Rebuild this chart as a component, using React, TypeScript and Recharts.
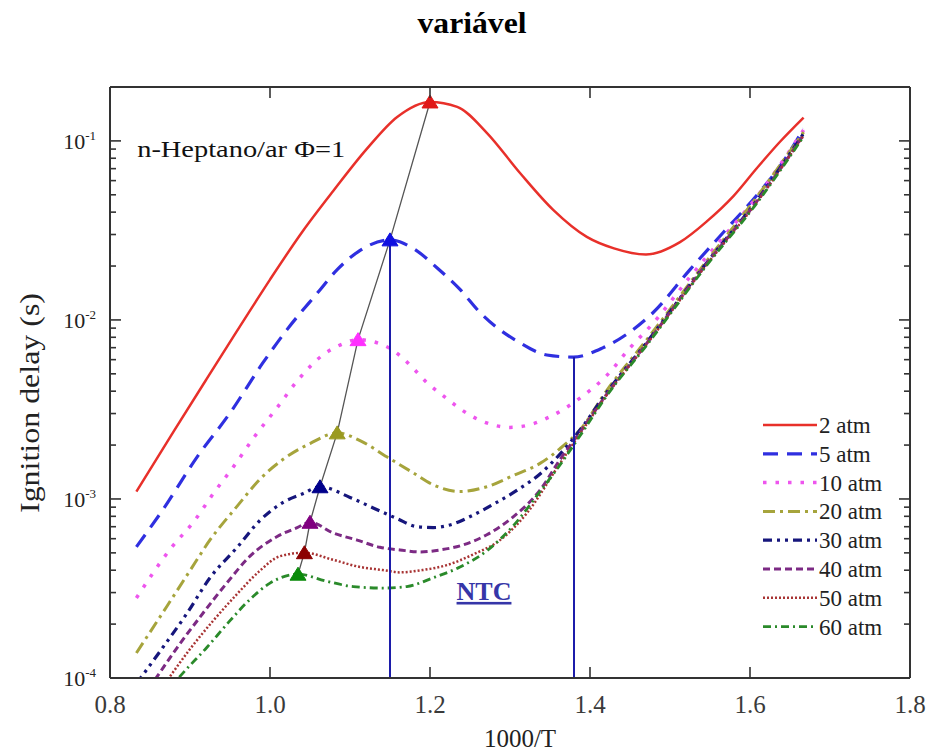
import React from 'react';
import { LineChart, Line, XAxis, YAxis, ReferenceLine, ReferenceDot, Legend } from 'recharts';

const FONT = '"Liberation Serif", "Times New Roman", serif';
const AXIS = '#333';
const TEXT = '#222';

// plot box inside the 929x754 svg
const PLOT = { left: 110, right: 910, top: 87, bottom: 678 };

// [1000/T, ignition delay (s)]
const atm2: [number, number][] = [
  [0.833, 1.1e-3], [0.88, 2.4e-3], [0.92, 4.62e-3], [0.959, 8.71e-3], [1.0, 1.68e-2],
  [1.04, 3.09e-2], [1.079, 5.25e-2], [1.121, 9.02e-2], [1.159, 0.136], [1.2, 0.165],
  [1.234, 0.155], [1.271, 0.111], [1.3125, 0.0662], [1.354, 0.0412], [1.396, 0.0291],
  [1.43, 0.0251], [1.47, 0.0232], [1.5125, 0.0272], [1.546, 0.0355], [1.579, 0.049],
  [1.609, 0.0708], [1.6375, 0.0989], [1.667, 0.135],
];
const atm5: [number, number][] = [
  [0.833, 5.4e-4], [0.866, 8.7e-4], [0.909, 1.72e-3], [0.95, 3.02e-3], [0.991, 5.75e-3],
  [1.021, 8.8e-3], [1.059, 1.41e-2], [1.084, 1.91e-2], [1.11, 2.4e-2], [1.15, 2.8e-2],
  [1.179, 2.51e-2], [1.209, 1.95e-2], [1.2375, 1.48e-2], [1.2625, 1.1e-2], [1.3125, 7.45e-3],
  [1.346, 6.37e-3], [1.379, 6.2e-3], [1.416, 6.98e-3], [1.45, 8.57e-3], [1.479, 1.1e-2],
  [1.525, 1.91e-2], [1.566, 3.06e-2], [1.609, 5.0e-2], [1.641, 7.6e-2], [1.667, 0.117],
];
const atm10: [number, number][] = [
  [0.833, 2.8e-4], [0.8775, 5.4e-4], [0.904, 7.4e-4], [0.929, 1.07e-3], [0.956, 1.55e-3],
  [0.981, 2.24e-3], [1.009, 3.24e-3], [1.035, 4.62e-3], [1.066, 6.37e-3], [1.0875, 7.24e-3],
  [1.11, 7.76e-3], [1.146, 7.08e-3], [1.165, 6.17e-3], [1.179, 5.37e-3], [1.196, 4.47e-3],
  [1.2125, 3.89e-3], [1.2625, 2.75e-3], [1.3, 2.51e-3], [1.329, 2.63e-3], [1.35, 2.88e-3],
  [1.3875, 3.66e-3], [1.421, 4.9e-3], [1.45, 6.98e-3], [1.479, 9.6e-3], [1.525, 1.74e-2],
  [1.566, 2.88e-2], [1.609, 4.9e-2], [1.667, 0.115],
];
const atm20: [number, number][] = [
  [0.833, 1.38e-4], [0.871, 2.51e-4], [0.9, 3.98e-4], [0.925, 5.9e-4], [0.959, 9.12e-4],
  [0.9875, 1.29e-3], [1.016, 1.66e-3], [1.05, 2.04e-3], [1.084, 2.34e-3], [1.115, 2.09e-3],
  [1.146, 1.72e-3], [1.179, 1.4e-3], [1.204, 1.2e-3], [1.2375, 1.1e-3], [1.271, 1.17e-3],
  [1.304, 1.35e-3], [1.3375, 1.58e-3], [1.3625, 1.91e-3], [1.39, 2.51e-3], [1.42, 3.98e-3],
  [1.471, 7.76e-3], [1.546, 2.14e-2], [1.609, 4.9e-2], [1.667, 0.112],
];
const atm30: [number, number][] = [
  [0.833, 9.3e-5], [0.866, 1.48e-4], [0.896, 2.29e-4], [0.925, 3.63e-4], [0.959, 5.37e-4],
  [0.9875, 7.59e-4], [1.016, 9.55e-4], [1.041, 1.07e-3], [1.0625, 1.17e-3], [1.1, 1.02e-3],
  [1.129, 8.91e-4], [1.159, 7.76e-4], [1.184, 7.0e-4], [1.204, 6.92e-4], [1.225, 7.16e-4],
  [1.254, 8.13e-4], [1.279, 9.33e-4], [1.309, 1.12e-3], [1.3375, 1.38e-3], [1.3625, 1.78e-3],
  [1.39, 2.51e-3], [1.42, 3.89e-3], [1.471, 7.5e-3], [1.546, 2.09e-2], [1.609, 4.68e-2],
  [1.667, 0.11],
];
const atm40: [number, number][] = [
  [0.833, 6.9e-5], [0.859, 1.02e-4], [0.884, 1.48e-4], [0.9125, 2.19e-4], [0.946, 3.39e-4],
  [0.975, 4.79e-4], [1.009, 6.17e-4], [1.034, 6.92e-4], [1.05, 7.41e-4], [1.079, 6.46e-4],
  [1.109, 5.89e-4], [1.1375, 5.37e-4], [1.1625, 5.19e-4], [1.1875, 5.06e-4], [1.2125, 5.19e-4],
  [1.241, 5.53e-4], [1.271, 6.31e-4], [1.304, 7.94e-4], [1.3375, 1.12e-3], [1.3625, 1.66e-3],
  [1.39, 2.45e-3], [1.42, 3.8e-3], [1.471, 7.41e-3], [1.546, 2.07e-2], [1.609, 4.62e-2],
  [1.667, 0.108],
];
const atm50: [number, number][] = [
  [0.833, 5.4e-5], [0.875, 1.02e-4], [0.9, 1.45e-4], [0.929, 2.09e-4], [0.959, 2.95e-4],
  [0.9875, 3.98e-4], [1.0125, 4.79e-4], [1.043, 5.01e-4], [1.079, 4.57e-4], [1.1125, 4.17e-4],
  [1.141, 4.01e-4], [1.1625, 3.89e-4], [1.191, 4.01e-4], [1.221, 4.27e-4], [1.254, 4.9e-4],
  [1.2875, 5.89e-4], [1.321, 8.32e-4], [1.3625, 1.58e-3], [1.39, 2.4e-3], [1.42, 3.76e-3],
  [1.471, 7.33e-3], [1.546, 2.04e-2], [1.609, 4.57e-2], [1.667, 0.107],
];
const atm60: [number, number][] = [
  [0.833, 4.8e-5], [0.8875, 1.02e-4], [0.921, 1.48e-4], [0.95, 2.09e-4], [0.975, 2.75e-4],
  [1.0, 3.39e-4], [1.035, 3.8e-4], [1.071, 3.47e-4], [1.104, 3.24e-4], [1.141, 3.18e-4],
  [1.171, 3.24e-4], [1.204, 3.63e-4], [1.2375, 4.17e-4], [1.271, 5.13e-4], [1.304, 7.08e-4],
  [1.3375, 1.1e-3], [1.3625, 1.55e-3], [1.39, 2.34e-3], [1.42, 3.72e-3], [1.471, 7.24e-3],
  [1.546, 2.02e-2], [1.609, 4.52e-2], [1.667, 0.106],
];

// delay maxima (triangles), 60 atm -> 2 atm
const peaks: [number, number][] = [
  [1.035, 3.8e-4], [1.043, 5.01e-4], [1.05, 7.41e-4], [1.0625, 1.17e-3],
  [1.084, 2.34e-3], [1.11, 7.76e-3], [1.15, 2.8e-2], [1.2, 0.165],
];
const peakColors = ['#0a8a0a', '#8b0000', '#800080', '#00008b', '#9a9a20', '#ff30ff', '#1010e0', '#e01818'];

// NTC bounds: max and min of the 5 atm curve
const ntcBounds: [number, number][] = [[1.15, 2.8e-2], [1.38, 6.2e-3]];

const X_TICKS = [0.8, 1.0, 1.2, 1.4, 1.6, 1.8];
const X_TOP_TICKS = [1.0, 1.2, 1.4, 1.6];
const Y_MAJOR = [1e-4, 1e-3, 1e-2, 1e-1];
const Y_TICKS = [
  1e-4, 2e-4, 3e-4, 4e-4, 5e-4, 6e-4, 7e-4, 8e-4, 9e-4,
  1e-3, 2e-3, 3e-3, 4e-3, 5e-3, 6e-3, 7e-3, 8e-3, 9e-3,
  1e-2, 2e-2, 3e-2, 4e-2, 5e-2, 6e-2, 7e-2, 8e-2, 9e-2,
  1e-1,
];

const series = [
  { name: '2 atm', data: atm2, color: '#e8302a', dash: undefined, width: 2.5 },
  { name: '5 atm', data: atm5, color: '#2f2fe0', dash: '15 9', width: 3.2 },
  { name: '10 atm', data: atm10, color: '#ee55ee', dash: '3.5 9', width: 3.5 },
  { name: '20 atm', data: atm20, color: '#a6a43c', dash: '12 5 3 5', width: 3 },
  { name: '30 atm', data: atm30, color: '#16167c', dash: '9 5 3 5 3 5', width: 3.2 },
  { name: '40 atm', data: atm40, color: '#7c2a84', dash: '7 4', width: 3 },
  { name: '50 atm', data: atm50, color: '#a83434', dash: '2 2', width: 2.5 },
  { name: '60 atm', data: atm60, color: '#2a8a2a', dash: '8 4 2 4', width: 2.8 },
];

const toPoints = (d: [number, number][]) => d.map(([x, y]) => ({ x, y }));
const peakData = peaks.map(([x, y], i) => ({ x, y, color: peakColors[i] }));

function LeftTick({ y, payload }: any) {
  const v = payload.value;
  const major = Y_MAJOR.includes(v);
  const exp = Math.round(Math.log10(v));
  return (
    <g>
      <line x1={PLOT.left} x2={PLOT.left + (major ? 11 : 6)} y1={y} y2={y} stroke={AXIS} strokeWidth={1.6} />
      {major && (
        <text x={PLOT.left - 14} y={y} dy="0.36em" textAnchor="end" fontFamily={FONT} fontSize={22} fill={TEXT}>
          10<tspan dy={-9} fontSize={13}>{String(exp)}</tspan>
        </text>
      )}
    </g>
  );
}

function RightTick({ y, payload }: any) {
  const major = Y_MAJOR.includes(payload.value);
  return <line x1={PLOT.right} x2={PLOT.right - (major ? 11 : 6)} y1={y} y2={y} stroke={AXIS} strokeWidth={1.6} />;
}

function BottomTick({ x, payload }: any) {
  const v = payload.value;
  const edge = v === X_TICKS[0] || v === X_TICKS[X_TICKS.length - 1];
  return (
    <g>
      {!edge && <line x1={x} x2={x} y1={PLOT.bottom} y2={PLOT.bottom - 11} stroke={AXIS} strokeWidth={1.6} />}
      <text x={x} y={PLOT.bottom + 35} textAnchor="middle" fontFamily={FONT} fontSize={25} fill="#3a3a3a">
        {v.toFixed(1)}
      </text>
    </g>
  );
}

function TopTick({ x }: any) {
  return <line x1={x} x2={x} y1={PLOT.top} y2={PLOT.top + 11} stroke={AXIS} strokeWidth={1.6} />;
}

function Triangle(props: any) {
  const { cx, cy, payload, index } = props;
  if (cx == null || cy == null) return <g key={index} />;
  const d = `M${cx - 8},${cy + 6} L${cx + 8},${cy + 6} L${cx},${cy - 7} Z`;
  return <path key={index} d={d} fill={payload.color} stroke={payload.color} strokeWidth={1} />;
}

function LegendBox() {
  return (
    <svg width={170} height={240} style={{ display: 'block' }}>
      {series.map((s, i) => {
        const y = 20 + i * 28.8;
        return (
          <g key={s.name}>
            <line x1={13} x2={67} y1={y} y2={y} stroke={s.color} strokeWidth={s.width} strokeDasharray={s.dash} />
            <text x={69} y={y} dy="0.35em" fontFamily={FONT} fontSize={23} fill={TEXT}>{s.name}</text>
          </g>
        );
      })}
    </svg>
  );
}

export default function App() {
  return (
    <div style={{ position: 'absolute', left: 0, top: 0, width: 929, height: 754, background: '#fff' }}>
      <LineChart width={929} height={754} margin={{ top: 0, right: 0, bottom: 0, left: 0 }}>
        <XAxis
          dataKey="x"
          type="number"
          domain={[0.8, 1.8]}
          ticks={X_TICKS}
          allowDataOverflow
          height={754 - PLOT.bottom}
          axisLine={{ stroke: AXIS, strokeWidth: 2 }}
          tickLine={false}
          tick={<BottomTick />}
          interval={0}
          label={() => (
            <text x={520} y={747} textAnchor="middle" fontFamily={FONT} fontSize={25} fill={TEXT}>1000/T</text>
          )}
        />
        <XAxis
          xAxisId="top"
          orientation="top"
          dataKey="x"
          type="number"
          domain={[0.8, 1.8]}
          ticks={X_TOP_TICKS}
          allowDataOverflow
          height={PLOT.top}
          axisLine={{ stroke: AXIS, strokeWidth: 2 }}
          tickLine={false}
          tick={<TopTick />}
          interval={0}
          label={() => (
            <text x={472} y={33} textAnchor="middle" fontFamily={FONT} fontSize={30} fontWeight="bold" fill="#000" textLength={109} lengthAdjust="spacingAndGlyphs">variável</text>
          )}
        />
        <YAxis
          type="number"
          scale="log"
          domain={[1e-4, 0.2]}
          ticks={Y_TICKS}
          allowDataOverflow
          width={PLOT.left}
          axisLine={{ stroke: AXIS, strokeWidth: 2 }}
          tickLine={false}
          tick={<LeftTick />}
          interval={0}
          label={() => (
            <text x={29} y={403} transform="rotate(-90 29 403)" textAnchor="middle" dominantBaseline="central" fontFamily={FONT} fontSize={28} fill={TEXT} textLength={220} lengthAdjust="spacingAndGlyphs">Ignition delay (s)</text>
          )}
        />
        <YAxis
          yAxisId="right"
          orientation="right"
          type="number"
          scale="log"
          domain={[1e-4, 0.2]}
          ticks={Y_TICKS}
          allowDataOverflow
          width={929 - PLOT.right}
          axisLine={{ stroke: AXIS, strokeWidth: 2 }}
          tickLine={false}
          tick={<RightTick />}
          interval={0}
        />

        {series.map((s) => (
          <Line
            key={s.name}
            data={toPoints(s.data)}
            dataKey="y"
            name={s.name}
            type="monotone"
            stroke={s.color}
            strokeWidth={s.width}
            strokeDasharray={s.dash}
            dot={false}
            activeDot={false}
            isAnimationActive={false}
          />
        ))}

        {ntcBounds.map(([x, y]) => (
          <ReferenceLine
            key={x}
            segment={[{ x, y: 1e-4 }, { x, y }]}
            stroke="#1c1caa"
            strokeWidth={2}
            ifOverflow="visible"
          />
        ))}

        <Line
          data={peakData}
          dataKey="y"
          type="linear"
          stroke="#555"
          strokeWidth={1.3}
          dot={(p: any) => <Triangle {...p} />}
          activeDot={false}
          legendType="none"
          isAnimationActive={false}
        />

        <ReferenceDot
          x={0.834}
          y={0.0814}
          r={0}
          fill="none"
          stroke="none"
          label={({ viewBox }: any) => (
            <text x={viewBox.x} y={viewBox.y} fontFamily={FONT} fontSize={24} fill="#111" textLength={208} lengthAdjust="spacingAndGlyphs">n-Heptano/ar Φ=1</text>
          )}
        />
        <ReferenceDot
          x={1.2675}
          y={2.73e-4}
          r={0}
          fill="none"
          stroke="none"
          label={({ viewBox }: any) => (
            <text x={viewBox.x} y={viewBox.y} textAnchor="middle" fontFamily={FONT} fontSize={26} fontWeight="bold" fill="#3636a8" textDecoration="underline">NTC</text>
          )}
        />

        <Legend
          layout="vertical"
          align="center"
          verticalAlign="middle"
          wrapperStyle={{ left: 750, top: 405, width: 170, height: 240 }}
          content={() => <LegendBox />}
        />
      </LineChart>
    </div>
  );
}
